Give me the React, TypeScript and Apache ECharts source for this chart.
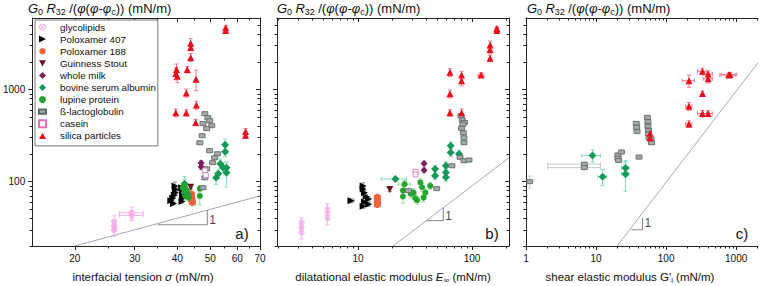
import React, { useEffect, useRef } from "react";
import * as echarts from "echarts";

// ---------- categories ----------
const materials = [
  "glycolipids",
  "Poloxamer 407",
  "Poloxamer 188",
  "Guinness Stout",
  "whole milk",
  "bovine serum albumin",
  "lupine protein",
  "ß-lactoglobulin",
  "casein",
  "silica particles",
];

// ---------- axis ranges and ticks ----------
const yRange = [20, 6000];
const aRange = [15, 70];
const bRange = [1.95, 211];
const cRange = [1, 2050];
const yMajorTicks = [100, 1000];
const yMinorTicks = [20, 30, 40, 50, 60, 70, 80, 90, 200, 300, 400, 500, 600, 700, 800, 900, 2000, 3000, 4000, 5000];
const aMajorTicks = [20, 30, 40, 50, 60, 70];
const aMinorTicks = [25, 35, 45, 55, 65];
const bMajorTicks = [10, 100];
const bMinorTicks = [2, 3, 4, 5, 6, 7, 8, 9, 20, 30, 40, 50, 60, 70, 80, 90, 200];
const cMajorTicks = [1, 10, 100, 1000];
const cMinorTicks = [2, 3, 4, 5, 6, 7, 8, 9, 20, 30, 40, 50, 60, 70, 80, 90, 200, 300, 400, 500, 600, 700, 800, 900, 2000];

// ---------- data: [x, y, relative x error, relative y error] ----------
// panel a: interfacial tension
const glycolipidsA = [[26.1, 37, 0.01, 0.15], [26.1, 33, 0.01, 0.12], [26.1, 30, 0.01, 0.15], [29.4, 46, 0.08, 0.15], [29.4, 43, 0.08, 0.12]];
const p407A = [[38.3, 62, 0, 0.04], [38.8, 66, 0, 0.04], [39.2, 71, 0, 0.04], [39.5, 76, 0, 0.05], [39.6, 82, 0, 0.05], [39.4, 90, 0, 0.1], [39.0, 58, 0, 0.04], [41.3, 61, 0, 0.04], [41.5, 66, 0, 0.04], [41.6, 72, 0, 0.04], [41.4, 78, 0, 0.05], [41.2, 86, 0, 0.06]];
const p188A = [[44.0, 74, 0, 0.05], [44.1, 68, 0, 0.05], [44.2, 63, 0, 0.05], [44.3, 59, 0, 0.05]];
const guinnessA = [[43.8, 87, 0, 0.05]];
const milkA = [[47.0, 160, 0, 0.06], [47.0, 145, 0, 0.06]];
const bsaA = [[55.3, 252, 0, 0.15], [55.3, 212, 0, 0.12], [53.5, 157, 0, 0.12], [55.8, 142, 0, 0.15], [55.8, 125, 0, 0.3], [54.6, 142, 0, 0.1], [52, 110, 0, 0.15], [52.8, 122, 0, 0.1], [42, 95, 0, 0.2], [41.8, 88, 0, 0.1], [42.4, 82, 0, 0.1], [42, 76, 0, 0.1], [43, 72, 0, 0.1]];
const lupineA = [[42, 92, 0, 0.15], [41.6, 85, 0, 0.1], [42.6, 80, 0, 0.1], [42.2, 70, 0, 0.1], [43.2, 67, 0, 0.1], [46.6, 84, 0, 0.08], [46.6, 70, 0, 0.2]];
const betaA = [[48.2, 548, 0, 0.05], [49.2, 496, 0, 0.05], [49.8, 460, 0, 0.05], [47.6, 427, 0, 0.05], [50.5, 406, 0, 0.05], [48.8, 377, 0, 0.05], [47.3, 316, 0, 0.05], [46.6, 265, 0, 0.05], [49.8, 217, 0, 0.05], [51.5, 182, 0, 0.05], [50.8, 161, 0, 0.05], [48.8, 138, 0, 0.05], [48.2, 110, 0, 0.05], [47.6, 86, 0, 0.05], [52.5, 201, 0, 0.05]];
const caseinA = [[48.2, 132, 0, 0.05], [48.5, 118, 0, 0.05]];
const silicaA = [[55.5, 4700, 0, 0.05], [55.5, 4400, 0, 0.05], [43.8, 3200, 0, 0.12], [43.8, 2870, 0, 0.08], [43.8, 2240, 0, 0.1], [39.8, 1650, 0, 0.15], [39.6, 1500, 0, 0.15], [40, 1400, 0, 0.15], [42.8, 1650, 0, 0.08], [45.4, 1300, 0, 0.25], [42.5, 920, 0, 0.1], [45.5, 680, 0, 0.1], [39.6, 560, 0, 0.1], [42.5, 560, 0, 0.08], [45.3, 440, 0, 0.08], [63.5, 350, 0, 0.08], [63.5, 320, 0, 0.08]];

// panel b: dilatational elastic modulus
const glycolipidsB = [[3.2, 36, 0, 0.12], [3.2, 32, 0, 0.12], [3.2, 28, 0, 0.15], [5.4, 50, 0, 0.15], [5.4, 45, 0, 0.12], [5.4, 40, 0, 0.15]];
const p407B = [[8.7, 62, 0.06, 0.05], [11.1, 90, 0, 0.08], [11.1, 83, 0, 0.05], [11.4, 76, 0, 0.05], [11.8, 69, 0, 0.05], [12.4, 65, 0, 0.05], [11.4, 60, 0, 0.05], [12.4, 57, 0, 0.05], [11.1, 54, 0, 0.05]];
const p188B = [[14.8, 68, 0, 0.05], [14.8, 63, 0, 0.05], [14.8, 59, 0, 0.05], [14.8, 56, 0, 0.05]];
const guinnessB = [[19, 82, 0, 0.05]];
const milkB = [[38, 158, 0, 0.06], [38, 133, 0, 0.06]];
const bsaB = [[21.3, 107, 0.25, 0.06], [47.5, 137, 0, 0.1], [47.5, 116, 0, 0.1], [59, 149, 0, 0.1], [59, 126, 0, 0.1], [59, 112, 0, 0.1], [65, 246, 0, 0.1], [65, 208, 0, 0.1], [77, 200, 0.05, 0.1]];
const lupineB = [[25.6, 94, 0.12, 0.1], [24.8, 80, 0, 0.12], [24.8, 69, 0, 0.15], [30.7, 76, 0, 0.1], [31.8, 66, 0, 0.1], [33, 63, 0, 0.1], [36.5, 87, 0, 0.1], [39, 76, 0, 0.1], [37.6, 67, 0, 0.1], [43, 90, 0, 0.08], [35.2, 98, 0, 0.1], [29, 74, 0, 0.1]];
const betaB = [[80, 520, 0, 0.05], [82, 470, 0, 0.05], [86, 440, 0, 0.05], [83, 420, 0, 0.05], [81, 380, 0, 0.05], [84, 340, 0, 0.05], [85, 300, 0, 0.05], [85, 265, 0, 0.05], [78.5, 184, 0, 0.05], [85, 169, 0, 0.05], [94, 172, 0, 0.05], [66.6, 149, 0, 0.05], [49, 84, 0, 0.05], [27.7, 80, 0, 0.05]];
const caseinB = [[32, 128, 0, 0.05], [32, 120, 0, 0.05]];
const silicaB = [[165, 4600, 0.03, 0.05], [165, 4400, 0.03, 0.05], [144, 3060, 0, 0.1], [144, 2720, 0, 0.1], [144, 2190, 0, 0.08], [120, 1440, 0.06, 0.06], [64, 1540, 0, 0.1], [81, 1440, 0, 0.1], [81, 1250, 0, 0.12], [64, 900, 0, 0.1], [64, 560, 0, 0.08], [81, 560, 0, 0.1]];

// panel c: shear elastic modulus
const bsaC = [[8.9, 192, 0.3, 0.15], [12.4, 113, 0.15, 0.2], [26.3, 141, 0.12, 0.2], [26.3, 121, 0.12, 0.35]];
const betaC = [[37.5, 430, 0, 0.05], [38, 390, 0, 0.05], [38.5, 350, 0, 0.05], [54, 500, 0, 0.05], [55, 450, 0, 0.05], [55, 400, 0, 0.05], [56, 360, 0, 0.05], [56, 330, 0, 0.05], [57, 300, 0, 0.05], [61, 290, 0, 0.05], [62, 265, 0, 0.05], [41, 185, 0, 0.05], [20.5, 195, 0, 0.05], [20.5, 180, 0, 0.05], [21, 170, 0, 0.05], [23, 210, 0, 0.05], [6.8, 155, 0.7, 0.05], [6.8, 142, 0.7, 0.05], [1.13, 100, 0, 0.15]];
const silicaC = [[212, 1250, 0.2, 0.15], [330, 1580, 0.15, 0.08], [398, 1480, 0.15, 0.08], [398, 1310, 0.15, 0.1], [817, 1460, 0.25, 0.05], [780, 1440, 0.25, 0.05], [330, 910, 0, 0.06], [212, 660, 0.1, 0.1], [330, 550, 0.15, 0.08], [398, 550, 0.15, 0.08], [212, 424, 0.1, 0.08], [59, 336, 0, 0.05], [59, 298, 0, 0.05]];

// guide lines (slope 1) and slope triangles
const guideA = [[20, 20], [70, 70]];
const guideB = [[20.3, 20], [211, 182]];
const guideC = [[20, 20], [2050, 1960]];
const triA = [[35, 34], [49, 34], [49, 49]];
const triB = [[40, 37.7], [56, 37.7], [56, 52]];
const triC = [[32, 30], [46, 30], [46, 40.6]];
const oneA = [49, 38.5];
const oneB = [56, 42.7];
const oneC = [46, 35.2];

const FONT = "'Liberation Sans', Arial, Helvetica, sans-serif";
const L = Math.log10;

const hexPath = "path://M0,-10L8.66,-5L8.66,5L0,10L-8.66,5L-8.66,-5Z";
const rightTri = "path://M0,0L10,5L0,10Z";
const downTri = "path://M0,0L10,0L5,9Z";
const upTri = "path://M5,0L10,9L0,9Z";
const crossCircle = "path://M10,0A10,10,0,1,0,10.01,0ZM10,2.5A7.5,7.5,0,1,1,9.99,2.5ZM4.2,5.8L5.8,4.2L10,8.4L14.2,4.2L15.8,5.8L11.6,10L15.8,14.2L14.2,15.8L10,11.6L5.8,15.8L4.2,14.2L8.4,10Z";
const barIcon = "path://M0,0H10V6H0Z";

const styles: Record<string, any> = {
  "glycolipids": { symbol: crossCircle, size: 6, color: "#f4a6e4", err: "#f6b2ea" },
  "Poloxamer 407": { symbol: rightTri, size: 7, color: "#000000", err: "#8a8a8a" },
  "Poloxamer 188": { symbol: hexPath, size: 7, color: "#f0603a", err: "#f5a080" },
  "Guinness Stout": { symbol: downTri, size: 7, color: "#6a1428", err: "#b07080" },
  "whole milk": { symbol: "diamond", size: 7, color: "#7a1e5e", err: "#c080b0" },
  "bovine serum albumin": { symbol: "diamond", size: 8, color: "#16985a", err: "#86e0b4" },
  "lupine protein": { symbol: "circle", size: 6, color: "#22a52a", err: "#96e096" },
  "ß-lactoglobulin": { symbol: "rect", size: [6, 4], color: "#a4aaaa", border: "#5e6666", err: "#c4cbcb" },
  "casein": { symbol: "rect", size: 5, color: "#ffffff", border: "#e070b0", err: "#f0a0d0" },
  "silica particles": { symbol: upTri, size: 7, color: "#e8101c", err: "#f27a92" },
};

const panelData: any[][] = [
  [glycolipidsA, p407A, p188A, guinnessA, milkA, bsaA, lupineA, betaA, caseinA, silicaA],
  [glycolipidsB, p407B, p188B, guinnessB, milkB, bsaB, lupineB, betaB, caseinB, silicaB],
  [[], [], [], [], [], bsaC, [], betaC, [], silicaC],
];
const guides = [guideA, guideB, guideC];
const tris = [triA, triB, triC];
const ones = [oneA, oneB, oneC];
const xRanges = [aRange, bRange, cRange];
const xMajors = [aMajorTicks, bMajorTicks, cMajorTicks];
const xMinors = [aMinorTicks, bMinorTicks, cMinorTicks];
const grids = [
  { left: 30, top: 18, width: 230, height: 228 },
  { left: 277, top: 18, width: 232, height: 228 },
  { left: 526, top: 18, width: 232, height: 228 },
];

function makeAxes(dim: "x" | "y", gridIndex: number, range: number[], majors: number[], minors: number[], showLabels: boolean) {
  const min = L(range[0]);
  const max = L(range[1]);
  const maj = majors.map(L);
  const mnr = minors.map(L);
  const pos = dim === "x" ? ["bottom", "top"] : ["left", "right"];
  const base = { type: "value", gridIndex, min, max, splitLine: { show: false }, axisPointer: { show: false } };
  const line = { show: true, lineStyle: { color: "#222", width: 1 } };
  const tickStyle = { color: "#222", width: 1 };
  return [
    {
      ...base, position: pos[0], axisLine: line,
      axisTick: { show: true, customValues: maj, length: 4, inside: false, lineStyle: tickStyle },
      axisLabel: {
        show: showLabels, customValues: maj, fontSize: 10, color: "#111", fontFamily: FONT, margin: 7,
        formatter: (v: number) => String(Math.round(Math.pow(10, v))),
      },
    },
    {
      ...base, position: pos[0], axisLine: { show: false },
      axisTick: { show: true, customValues: mnr, length: 2.5, inside: false, lineStyle: tickStyle },
      axisLabel: { show: false },
    },
    {
      ...base, position: pos[1], axisLine: line,
      axisTick: { show: true, customValues: maj, length: 4, inside: true, lineStyle: tickStyle },
      axisLabel: { show: false },
    },
    {
      ...base, position: pos[1], axisLine: { show: false },
      axisTick: { show: true, customValues: mnr, length: 2.5, inside: true, lineStyle: tickStyle },
      axisLabel: { show: false },
    },
  ];
}

function errRender(color: string) {
  return (_params: any, api: any) => {
    const x = api.value(0), y = api.value(1);
    const xl = api.value(2), xh = api.value(3), yl = api.value(4), yh = api.value(5);
    const st = { stroke: color, lineWidth: 1 };
    const cap = 2;
    const children: any[] = [];
    if (yh - yl > 1e-9) {
      const a = api.coord([x, yl]);
      const b = api.coord([x, yh]);
      children.push({ type: "line", shape: { x1: a[0], y1: a[1], x2: b[0], y2: b[1] }, style: st });
      children.push({ type: "line", shape: { x1: a[0] - cap, y1: a[1], x2: a[0] + cap, y2: a[1] }, style: st });
      children.push({ type: "line", shape: { x1: b[0] - cap, y1: b[1], x2: b[0] + cap, y2: b[1] }, style: st });
    }
    if (xh - xl > 1e-9) {
      const a = api.coord([xl, y]);
      const b = api.coord([xh, y]);
      children.push({ type: "line", shape: { x1: a[0], y1: a[1], x2: b[0], y2: b[1] }, style: st });
      children.push({ type: "line", shape: { x1: a[0], y1: a[1] - cap, x2: a[0], y2: a[1] + cap }, style: st });
      children.push({ type: "line", shape: { x1: b[0], y1: b[1] - cap, x2: b[0], y2: b[1] + cap }, style: st });
    }
    return { type: "group", children };
  };
}

function buildOption() {
  const xAxis: any[] = [];
  const yAxis: any[] = [];
  const series: any[] = [];
  for (let p = 0; p < 3; p++) {
    xAxis.push(...makeAxes("x", p, xRanges[p], xMajors[p], xMinors[p], true));
    yAxis.push(...makeAxes("y", p, yRange, yMajorTicks, yMinorTicks, p === 0));
    const ax = { xAxisIndex: p * 4, yAxisIndex: p * 4 };
    series.push({
      type: "line", ...ax, name: "guide" + p, data: guides[p].map(([x, y]) => [L(x), L(y)]),
      symbol: "none", lineStyle: { color: "#8a94a4", width: 0.8 }, z: 1, silent: true, clip: true,
    });
    series.push({
      type: "line", ...ax, name: "tri" + p, data: tris[p].map(([x, y]) => [L(x), L(y)]),
      symbol: "none", lineStyle: { color: "#666", width: 0.8 }, z: 1, silent: true,
    });
    series.push({
      type: "scatter", ...ax, name: "one" + p, data: [[L(ones[p][0]), L(ones[p][1])]],
      symbolSize: 0, silent: true,
      label: { show: true, position: "right", distance: 2, formatter: "1", fontSize: 12, color: "#111", fontFamily: FONT },
    });
    materials.forEach((name, m) => {
      const d = panelData[p][m];
      if (!d || d.length === 0) return;
      const s = styles[name];
      series.push({
        type: "scatter", ...ax, name, z: 4,
        data: d.map(([x, y]: number[]) => [L(x), L(y)]),
        symbol: s.symbol, symbolSize: s.size,
        itemStyle: { color: s.color, borderColor: s.border || s.color, borderWidth: s.border ? 0.8 : 0, opacity: 1 },
        emphasis: { disabled: true },
      });
      series.push({
        type: "custom", ...ax, name: name + " err", z: 3, clip: true, silent: true,
        renderItem: errRender(s.err),
        encode: { x: [0, 2, 3], y: [1, 4, 5] },
        data: d.map(([x, y, ex, ey]: number[]) => [L(x), L(y), L(x * (1 - ex)), L(x * (1 + ex)), L(y * (1 - ey)), L(y * (1 + ey))]),
      });
    });
  }

  const mkRich = (fs: number, sfs: number) => ({
    n: { fontSize: fs, fontFamily: FONT, color: "#111", lineHeight: fs + 3 },
    i: { fontSize: fs, fontFamily: FONT, fontStyle: "italic", color: "#111", lineHeight: fs + 3 },
    s: { fontSize: sfs, fontFamily: FONT, color: "#111", lineHeight: sfs, verticalAlign: "bottom" },
  });
  const topRich = mkRich(13, 9);
  const botRich = mkRich(11.5, 8);
  const topTitle = "{i|G}{s|0} {i|R}{s|32} {n|/(}{i|φ}{n|(}{i|φ}{n|-}{i|φ}{s|c}{n|)) (mN/m)}";
  const graphic: any[] = [];
  [28, 277, 527].forEach((x) => {
    graphic.push({ type: "text", left: x, top: 2, style: { text: topTitle, rich: topRich, fill: "#111" } });
  });
  const bottomTitles = [
    { x: 143, text: "{n|interfacial tension }{i|σ}{n| (mN/m)}" },
    { x: 393, text: "{n|dilatational elastic modulus }{i|E}{s|∞}{n| (mN/m)}" },
    { x: 630, text: "{n|shear elastic modulus G'}{s|i}{n| (mN/m)}" },
  ];
  bottomTitles.forEach((t) => {
    graphic.push({
      type: "text", x: t.x, y: 277,
      style: { text: t.text, rich: botRich, align: "center", verticalAlign: "middle", fill: "#111" },
    });
  });
  [["a)", 242], ["b)", 492], ["c)", 742]].forEach(([t, x]) => {
    graphic.push({
      type: "text", x: x as number, y: 233,
      style: { text: t as string, fontSize: 15, fontFamily: FONT, fill: "#111", align: "center", verticalAlign: "middle" },
    });
  });

  return {
    animation: false,
    backgroundColor: "#ffffff",
    textStyle: { fontFamily: FONT },
    grid: grids,
    xAxis,
    yAxis,
    series,
    graphic,
    legend: {
      data: materials.map((n) => (n === "ß-lactoglobulin" ? { name: n, icon: barIcon } : { name: n })),
      orient: "vertical",
      left: 35,
      top: 20,
      itemWidth: 7,
      itemHeight: 7,
      itemGap: 2.1,
      padding: [2, 2, 5, 3],
      borderColor: "#777",
      borderWidth: 1,
      backgroundColor: "#ffffff",
      selectedMode: false,
      textStyle: { fontSize: 9.8, lineHeight: 10, color: "#111", fontFamily: FONT, padding: [0, 0, 0, 9] },
    },
  };
}

export default function App() {
  const ref = useRef<HTMLDivElement>(null);
  useEffect(() => {
    if (!ref.current) return;
    const chart = echarts.init(ref.current, undefined, { renderer: "svg" });
    chart.setOption(buildOption() as any);
    return () => chart.dispose();
  }, []);
  return <div ref={ref} style={{ position: "fixed", left: 0, top: 0, width: 760, height: 286 }} />;
}
